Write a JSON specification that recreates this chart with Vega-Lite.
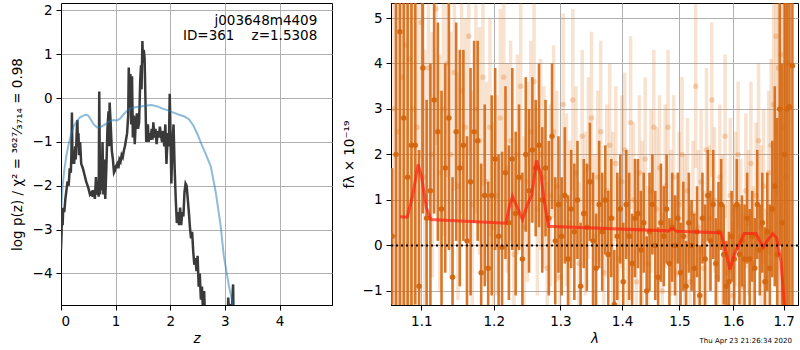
{
"$schema": "https://vega.github.io/schema/vega-lite/v6.json",
"padding": {"left": 9, "top": 2, "right": 0, "bottom": 0},
"config": {
  "font": "DejaVu Sans",
  "view": {"stroke": "black", "strokeWidth": 1},
  "axis": {"grid": true, "gridColor": "#b0b0b0", "gridWidth": 1, "tickColor": "black", "tickSize": 5, "tickWidth": 1, "domainColor": "black", "labelFont": "DejaVu Sans", "labelFontSize": 13.5, "labelColor": "black", "titleFont": "DejaVu Sans", "titleFontSize": 13.5, "titleFontWeight": "normal", "titleColor": "black", "labelPadding": 4}
},
"datasets": {
  "pz": [
    {"z":0.0,"v":-3.45},{"z":0.01,"v":-3.1},{"z":0.02,"v":-2.6},{"z":0.03,"v":-2.9},{"z":0.04,"v":-2.5},{"z":0.06,"v":-2.6},{"z":0.08,"v":-2.3},{"z":0.1,"v":-2.1},{"z":0.12,"v":-1.9},{"z":0.14,"v":-2.0},{"z":0.16,"v":-1.6},{"z":0.18,"v":-1.7},{"z":0.19,"v":-1.3},{"z":0.2,"v":-0.33},{"z":0.21,"v":-1.5},{"z":0.23,"v":-1.2},{"z":0.24,"v":-1.5},{"z":0.26,"v":-1.1},{"z":0.27,"v":-1.4},{"z":0.29,"v":-0.7},{"z":0.3,"v":-0.5},{"z":0.31,"v":-1.1},{"z":0.32,"v":-0.8},{"z":0.33,"v":-1.3},{"z":0.35,"v":-1.0},{"z":0.37,"v":-1.5},{"z":0.4,"v":-1.6},{"z":0.43,"v":-1.75},{"z":0.46,"v":-1.9},{"z":0.5,"v":-2.05},{"z":0.53,"v":-2.2},{"z":0.56,"v":-2.15},{"z":0.58,"v":-2.25},{"z":0.6,"v":-2.1},{"z":0.62,"v":-2.3},{"z":0.64,"v":-1.8},{"z":0.65,"v":-2.2},{"z":0.67,"v":-1.9},{"z":0.69,"v":-2.25},{"z":0.7,"v":0.15},{"z":0.715,"v":-2.2},{"z":0.73,"v":-1.6},{"z":0.745,"v":-2.1},{"z":0.76,"v":-1.0},{"z":0.775,"v":-2.2},{"z":0.79,"v":-1.4},{"z":0.81,"v":-2.3},{"z":0.83,"v":-1.6},{"z":0.85,"v":-0.7},{"z":0.87,"v":-0.3},{"z":0.88,"v":-1.1},{"z":0.89,"v":-0.1},{"z":0.91,"v":-0.6},{"z":0.93,"v":-1.2},{"z":0.95,"v":-1.4},{"z":0.97,"v":-1.7},{"z":0.99,"v":-1.65},{"z":1.01,"v":-1.55},{"z":1.03,"v":-1.5},{"z":1.05,"v":-1.6},{"z":1.07,"v":-1.4},{"z":1.09,"v":-1.45},{"z":1.11,"v":-1.3},{"z":1.13,"v":-1.35},{"z":1.15,"v":-1.2},{"z":1.17,"v":-1.1},{"z":1.19,"v":-0.95},{"z":1.21,"v":-0.8},{"z":1.23,"v":-0.4},{"z":1.24,"v":0.7},{"z":1.255,"v":-0.2},{"z":1.27,"v":0.55},{"z":1.285,"v":-0.6},{"z":1.3,"v":0.5},{"z":1.315,"v":-0.9},{"z":1.33,"v":-0.4},{"z":1.35,"v":-1.05},{"z":1.37,"v":-0.5},{"z":1.39,"v":-0.35},{"z":1.41,"v":-0.7},{"z":1.43,"v":-0.55},{"z":1.45,"v":0.4},{"z":1.465,"v":0.75},{"z":1.475,"v":0.2},{"z":1.49,"v":1.3},{"z":1.5,"v":0.8},{"z":1.515,"v":1.1},{"z":1.53,"v":0.9},{"z":1.545,"v":0.0},{"z":1.56,"v":-1.0},{"z":1.575,"v":-0.85},{"z":1.59,"v":-0.6},{"z":1.605,"v":-1.0},{"z":1.62,"v":-0.8},{"z":1.64,"v":-0.95},{"z":1.66,"v":-0.7},{"z":1.675,"v":-0.95},{"z":1.69,"v":-0.55},{"z":1.71,"v":-0.9},{"z":1.73,"v":-0.7},{"z":1.75,"v":-1.05},{"z":1.77,"v":-0.75},{"z":1.79,"v":-0.9},{"z":1.81,"v":-0.65},{"z":1.83,"v":-0.85},{"z":1.85,"v":-1.0},{"z":1.87,"v":-0.75},{"z":1.89,"v":-1.1},{"z":1.91,"v":-0.6},{"z":1.93,"v":-1.5},{"z":1.955,"v":-0.8},{"z":1.975,"v":-1.1},{"z":1.99,"v":0.1},{"z":2.005,"v":-0.9},{"z":2.02,"v":-1.95},{"z":2.04,"v":-1.0},{"z":2.06,"v":-0.6},{"z":2.08,"v":-1.6},{"z":2.1,"v":-2.3},{"z":2.12,"v":-2.85},{"z":2.14,"v":-2.6},{"z":2.16,"v":-2.9},{"z":2.18,"v":-2.5},{"z":2.2,"v":-2.9},{"z":2.22,"v":-2.6},{"z":2.24,"v":-2.7},{"z":2.26,"v":-2.15},{"z":2.28,"v":-1.95},{"z":2.3,"v":-2.0},{"z":2.32,"v":-2.3},{"z":2.34,"v":-2.6},{"z":2.36,"v":-2.95},{"z":2.38,"v":-3.2},{"z":2.4,"v":-3.05},{"z":2.42,"v":-3.5},{"z":2.44,"v":-3.8},{"z":2.46,"v":-3.65},{"z":2.48,"v":-3.95},{"z":2.5,"v":-3.6},{"z":2.52,"v":-4.3},{"z":2.54,"v":-4.0},{"z":2.56,"v":-4.6},{"z":2.58,"v":-4.3},{"z":2.6,"v":-4.9},{"z":2.62,"v":-4.4},{"z":2.64,"v":-5.2},{"z":2.66,"v":-6},{"z":2.9,"v":-6},{"z":3.04,"v":-6},{"z":3.06,"v":-4.55},{"z":3.08,"v":-4.9},{"z":3.1,"v":-4.7},{"z":3.12,"v":-5.0},{"z":3.15,"v":-4.25},{"z":3.17,"v":-6},{"z":5.0,"v":-6}
  ],
  "pzfit": [
    {"z":0.0,"v":-2.6},{"z":0.03,"v":-2.0},{"z":0.06,"v":-1.65},{"z":0.1,"v":-1.3},{"z":0.14,"v":-1.05},{"z":0.18,"v":-0.85},{"z":0.23,"v":-0.65},{"z":0.29,"v":-0.52},{"z":0.35,"v":-0.44},{"z":0.41,"v":-0.4},{"z":0.46,"v":-0.38},{"z":0.5,"v":-0.4},{"z":0.55,"v":-0.5},{"z":0.6,"v":-0.6},{"z":0.66,"v":-0.67},{"z":0.72,"v":-0.66},{"z":0.78,"v":-0.62},{"z":0.84,"v":-0.57},{"z":0.9,"v":-0.52},{"z":0.96,"v":-0.5},{"z":1.02,"v":-0.51},{"z":1.08,"v":-0.47},{"z":1.14,"v":-0.38},{"z":1.2,"v":-0.3},{"z":1.28,"v":-0.23},{"z":1.36,"v":-0.21},{"z":1.46,"v":-0.19},{"z":1.56,"v":-0.17},{"z":1.66,"v":-0.16},{"z":1.76,"v":-0.19},{"z":1.86,"v":-0.24},{"z":1.96,"v":-0.28},{"z":2.06,"v":-0.33},{"z":2.16,"v":-0.38},{"z":2.26,"v":-0.42},{"z":2.34,"v":-0.48},{"z":2.42,"v":-0.62},{"z":2.5,"v":-0.83},{"z":2.58,"v":-1.08},{"z":2.64,"v":-1.25},{"z":2.74,"v":-1.55},{"z":2.83,"v":-2.13},{"z":2.92,"v":-2.89},{"z":2.98,"v":-3.6},{"z":3.07,"v":-4.26},{"z":3.16,"v":-4.8},{"z":3.22,"v":-5.2}
  ],
  "dark": [
    {"l":1.062,"f":0.2,"e":1.5},{"l":1.067,"f":2.0,"e":8},{"l":1.072,"f":4.7,"e":8},{"l":1.077,"f":2.8,"e":8},{"l":1.082,"f":1.5,"e":8},{"l":1.087,"f":2.2,"e":8},{"l":1.092,"f":2.2,"e":3.5},{"l":1.097,"f":-0.9,"e":3.0},{"l":1.102,"f":3.9,"e":3.2},{"l":1.107,"f":0.6,"e":2.6},{"l":1.112,"f":1.2,"e":2.8},{"l":1.117,"f":3.2,"e":2.5},{"l":1.122,"f":2.5,"e":2.4},{"l":1.127,"f":0.8,"e":2.6},{"l":1.132,"f":1.7,"e":2.3},{"l":1.137,"f":2.8,"e":2.9},{"l":1.142,"f":-0.7,"e":2.2},{"l":1.147,"f":2.5,"e":2.4},{"l":1.152,"f":1.7,"e":2.6},{"l":1.157,"f":2.2,"e":2.1},{"l":1.162,"f":0.1,"e":2.3},{"l":1.167,"f":1.4,"e":2.5},{"l":1.172,"f":2.5,"e":2.0},{"l":1.177,"f":2.3,"e":2.2},{"l":1.182,"f":-0.6,"e":2.4},{"l":1.187,"f":1.1,"e":2.0},{"l":1.192,"f":-0.5,"e":1.9},{"l":1.197,"f":1.1,"e":2.2},{"l":1.202,"f":1.9,"e":2.0},{"l":1.207,"f":0.2,"e":1.8},{"l":1.212,"f":-0.04,"e":2.1},{"l":1.217,"f":1.6,"e":1.9},{"l":1.222,"f":0.5,"e":1.7},{"l":1.227,"f":1.9,"e":2.0},{"l":1.232,"f":0.7,"e":1.8},{"l":1.237,"f":1.5,"e":1.6},{"l":1.242,"f":-0.3,"e":1.9},{"l":1.247,"f":2.0,"e":1.7},{"l":1.252,"f":1.2,"e":1.8},{"l":1.257,"f":2.1,"e":1.6},{"l":1.262,"f":1.7,"e":1.5},{"l":1.267,"f":2.2,"e":1.8},{"l":1.272,"f":1.0,"e":1.6},{"l":1.277,"f":1.7,"e":1.5},{"l":1.282,"f":0.6,"e":1.7},{"l":1.287,"f":2.4,"e":1.6},{"l":1.292,"f":0.1,"e":1.4},{"l":1.297,"f":0.9,"e":1.5},{"l":1.302,"f":0.2,"e":1.3},{"l":1.307,"f":1.1,"e":1.5},{"l":1.312,"f":-0.3,"e":1.4},{"l":1.317,"f":0.8,"e":1.3},{"l":1.322,"f":0.3,"e":1.5},{"l":1.327,"f":1.0,"e":1.3},{"l":1.332,"f":-0.9,"e":1.4},{"l":1.337,"f":0.7,"e":1.2},{"l":1.342,"f":0.4,"e":1.4},{"l":1.347,"f":1.4,"e":1.3},{"l":1.352,"f":0.1,"e":1.5},{"l":1.357,"f":-0.5,"e":1.2},{"l":1.362,"f":0.9,"e":1.4},{"l":1.367,"f":0.3,"e":1.3},{"l":1.372,"f":1.0,"e":1.2},{"l":1.377,"f":-0.2,"e":1.4},{"l":1.382,"f":0.6,"e":1.3},{"l":1.387,"f":-1.3,"e":1.2},{"l":1.392,"f":0.2,"e":1.4},{"l":1.397,"f":0.8,"e":1.2},{"l":1.402,"f":-0.8,"e":1.3},{"l":1.407,"f":0.9,"e":1.2},{"l":1.412,"f":0.2,"e":1.4},{"l":1.417,"f":-0.4,"e":1.1},{"l":1.422,"f":0.6,"e":1.3},{"l":1.427,"f":0.7,"e":1.2},{"l":1.432,"f":-0.1,"e":1.3},{"l":1.437,"f":0.5,"e":1.1},{"l":1.442,"f":-1.0,"e":1.2},{"l":1.447,"f":0.3,"e":1.3},{"l":1.452,"f":0.9,"e":1.1},{"l":1.457,"f":0.0,"e":1.2},{"l":1.462,"f":-0.7,"e":1.1},{"l":1.467,"f":0.5,"e":1.3},{"l":1.472,"f":0.2,"e":1.1},{"l":1.477,"f":0.8,"e":1.2},{"l":1.482,"f":-0.4,"e":1.0},{"l":1.487,"f":0.4,"e":1.2},{"l":1.492,"f":0.0,"e":1.1},{"l":1.497,"f":0.6,"e":1.0},{"l":1.502,"f":-0.6,"e":1.1},{"l":1.507,"f":0.2,"e":1.2},{"l":1.512,"f":-0.9,"e":1.0},{"l":1.517,"f":0.5,"e":1.1},{"l":1.522,"f":0.0,"e":1.0},{"l":1.527,"f":-0.5,"e":1.2},{"l":1.532,"f":0.3,"e":1.0},{"l":1.537,"f":-1.1,"e":1.1},{"l":1.542,"f":0.6,"e":1.0},{"l":1.547,"f":-0.3,"e":1.2},{"l":1.552,"f":1.1,"e":1.0},{"l":1.557,"f":0.1,"e":1.1},{"l":1.562,"f":0.9,"e":1.2},{"l":1.567,"f":-0.4,"e":1.0},{"l":1.572,"f":0.3,"e":1.1},{"l":1.577,"f":0.9,"e":1.0},{"l":1.582,"f":-0.2,"e":1.1},{"l":1.587,"f":-0.9,"e":1.0},{"l":1.592,"f":-0.8,"e":1.1},{"l":1.597,"f":0.2,"e":1.0},{"l":1.602,"f":-0.3,"e":1.2},{"l":1.607,"f":0.9,"e":1.0},{"l":1.612,"f":-0.2,"e":1.1},{"l":1.617,"f":0.1,"e":1.0},{"l":1.622,"f":-0.3,"e":1.2},{"l":1.627,"f":0.6,"e":1.0},{"l":1.632,"f":-0.3,"e":1.1},{"l":1.637,"f":0.2,"e":1.0},{"l":1.642,"f":-0.5,"e":1.1},{"l":1.647,"f":0.9,"e":1.2},{"l":1.652,"f":-0.1,"e":1.0},{"l":1.657,"f":0.5,"e":1.1},{"l":1.662,"f":-0.8,"e":1.2},{"l":1.667,"f":0.3,"e":1.3},{"l":1.672,"f":-0.5,"e":1.4},{"l":1.677,"f":0.8,"e":1.5},{"l":1.682,"f":1.3,"e":2.2},{"l":1.687,"f":-0.2,"e":3.0},{"l":1.692,"f":3.0,"e":3.0},{"l":1.697,"f":0.5,"e":3.5},{"l":1.702,"f":2.0,"e":8},{"l":1.707,"f":3.0,"e":8},{"l":1.712,"f":3.05,"e":8},{"l":1.718,"f":3.95,"e":8}
  ],
  "light": [
    {"l":1.0645,"f":3.0,"e":8},{"l":1.0695,"f":2.5,"e":8},{"l":1.0745,"f":3.7,"e":8},{"l":1.0795,"f":4.4,"e":8},{"l":1.0845,"f":4.1,"e":8},{"l":1.0895,"f":3.0,"e":8},{"l":1.0945,"f":2.6,"e":3.5},{"l":1.0995,"f":4.9,"e":3.0},{"l":1.1045,"f":1.5,"e":2.8},{"l":1.1095,"f":3.9,"e":3.0},{"l":1.1145,"f":2.0,"e":2.7},{"l":1.1195,"f":5.2,"e":3.0},{"l":1.1245,"f":1.6,"e":2.6},{"l":1.1295,"f":3.0,"e":2.8},{"l":1.1345,"f":4.0,"e":2.5},{"l":1.1395,"f":2.0,"e":2.7},{"l":1.1445,"f":3.8,"e":2.6},{"l":1.1495,"f":1.3,"e":2.5},{"l":1.1545,"f":3.4,"e":2.7},{"l":1.1595,"f":2.6,"e":2.4},{"l":1.1645,"f":4.6,"e":2.6},{"l":1.1695,"f":0.9,"e":2.5},{"l":1.1745,"f":3.0,"e":2.3},{"l":1.1795,"f":2.3,"e":2.5},{"l":1.1845,"f":3.7,"e":2.4},{"l":1.1895,"f":1.4,"e":2.2},{"l":1.1945,"f":2.6,"e":2.4},{"l":1.1995,"f":0.4,"e":2.3},{"l":1.2045,"f":1.1,"e":2.2},{"l":1.2095,"f":2.8,"e":2.4},{"l":1.2145,"f":3.7,"e":2.1},{"l":1.2195,"f":1.7,"e":2.3},{"l":1.2245,"f":2.3,"e":2.2},{"l":1.2295,"f":-0.2,"e":2.0},{"l":1.2345,"f":2.0,"e":2.2},{"l":1.2395,"f":3.5,"e":2.1},{"l":1.2445,"f":0.4,"e":2.0},{"l":1.2495,"f":1.4,"e":2.2},{"l":1.2545,"f":2.5,"e":2.0},{"l":1.2595,"f":3.6,"e":2.1},{"l":1.2645,"f":0.8,"e":1.9},{"l":1.2695,"f":2.0,"e":2.1},{"l":1.2745,"f":1.5,"e":2.0},{"l":1.2795,"f":-0.5,"e":1.9},{"l":1.2845,"f":1.1,"e":2.0},{"l":1.2895,"f":2.5,"e":1.9},{"l":1.2945,"f":1.3,"e":2.1},{"l":1.2995,"f":-0.7,"e":1.8},{"l":1.3045,"f":3.1,"e":2.0},{"l":1.3095,"f":1.0,"e":1.9},{"l":1.3145,"f":0.5,"e":1.8},{"l":1.3195,"f":3.2,"e":2.0},{"l":1.3245,"f":1.6,"e":1.9},{"l":1.3295,"f":-0.4,"e":1.8},{"l":1.3345,"f":2.4,"e":1.9},{"l":1.3395,"f":0.7,"e":1.8},{"l":1.3445,"f":1.7,"e":2.0},{"l":1.3495,"f":2.8,"e":1.9},{"l":1.3545,"f":0.2,"e":1.8},{"l":1.3595,"f":1.5,"e":1.9},{"l":1.3645,"f":2.5,"e":2.0},{"l":1.3695,"f":-0.6,"e":1.7},{"l":1.3745,"f":1.2,"e":1.9},{"l":1.3795,"f":2.2,"e":1.8},{"l":1.3845,"f":0.6,"e":1.9},{"l":1.3895,"f":1.8,"e":1.7},{"l":1.3945,"f":-0.3,"e":1.8},{"l":1.3995,"f":1.4,"e":1.9},{"l":1.4045,"f":2.1,"e":1.7},{"l":1.4095,"f":0.3,"e":1.8},{"l":1.4145,"f":2.7,"e":1.9},{"l":1.4195,"f":1.0,"e":1.7},{"l":1.4245,"f":-0.8,"e":1.8},{"l":1.4295,"f":1.6,"e":1.7},{"l":1.4345,"f":0.4,"e":1.9},{"l":1.4395,"f":1.9,"e":1.8},{"l":1.4445,"f":-0.4,"e":1.7},{"l":1.4495,"f":1.2,"e":1.8},{"l":1.4545,"f":2.6,"e":1.7},{"l":1.4595,"f":0.8,"e":1.8},{"l":1.4645,"f":1.7,"e":1.6},{"l":1.4695,"f":-1.0,"e":1.7},{"l":1.4745,"f":1.3,"e":1.8},{"l":1.4795,"f":2.6,"e":1.7},{"l":1.4845,"f":0.5,"e":1.6},{"l":1.4895,"f":1.5,"e":1.8},{"l":1.4945,"f":-0.6,"e":1.7},{"l":1.4995,"f":0.9,"e":1.6},{"l":1.5045,"f":2.0,"e":1.7},{"l":1.5095,"f":0.2,"e":1.8},{"l":1.5145,"f":1.2,"e":1.6},{"l":1.5195,"f":-0.8,"e":1.7},{"l":1.5245,"f":0.7,"e":1.6},{"l":1.5295,"f":3.5,"e":1.8},{"l":1.5345,"f":0.4,"e":1.7},{"l":1.5395,"f":1.4,"e":1.6},{"l":1.5445,"f":-0.5,"e":1.7},{"l":1.5495,"f":2.1,"e":1.8},{"l":1.5545,"f":0.6,"e":1.6},{"l":1.5595,"f":3.2,"e":1.7},{"l":1.5645,"f":1.0,"e":1.6},{"l":1.5695,"f":-0.7,"e":1.7},{"l":1.5745,"f":1.5,"e":1.6},{"l":1.5795,"f":0.3,"e":1.7},{"l":1.5845,"f":2.4,"e":1.8},{"l":1.5895,"f":-0.6,"e":1.6},{"l":1.5945,"f":1.1,"e":1.7},{"l":1.5995,"f":-1.1,"e":1.6},{"l":1.6045,"f":0.8,"e":1.7},{"l":1.6095,"f":2.0,"e":1.6},{"l":1.6145,"f":0.2,"e":1.7},{"l":1.6195,"f":-0.9,"e":1.6},{"l":1.6245,"f":1.2,"e":1.7},{"l":1.6295,"f":0.5,"e":1.6},{"l":1.6345,"f":1.8,"e":1.8},{"l":1.6395,"f":-0.4,"e":1.7},{"l":1.6445,"f":1.1,"e":1.6},{"l":1.6495,"f":2.3,"e":1.7},{"l":1.6545,"f":0.4,"e":1.8},{"l":1.6595,"f":1.3,"e":1.7},{"l":1.6645,"f":-0.8,"e":1.6},{"l":1.6695,"f":1.6,"e":1.8},{"l":1.6745,"f":2.2,"e":1.9},{"l":1.6795,"f":3.1,"e":2.4},{"l":1.6845,"f":4.6,"e":3.5},{"l":1.6895,"f":3.9,"e":6},{"l":1.6945,"f":4.2,"e":8},{"l":1.6995,"f":2.6,"e":8},{"l":1.7045,"f":1.5,"e":8},{"l":1.7095,"f":4.0,"e":8}
  ],
  "model": [
    {"l":1.0722,"f":0.63},{"l":1.0816,"f":0.62},{"l":1.0885,"f":1.1},{"l":1.0957,"f":1.78},{"l":1.1005,"f":1.49},{"l":1.1066,"f":0.83},{"l":1.1125,"f":0.57},{"l":1.2176,"f":0.49},{"l":1.2224,"f":0.83},{"l":1.2272,"f":1.08},{"l":1.2346,"f":0.83},{"l":1.2421,"f":0.57},{"l":1.2496,"f":0.9},{"l":1.256,"f":1.1},{"l":1.2632,"f":1.87},{"l":1.2699,"f":1.56},{"l":1.275,"f":0.97},{"l":1.2816,"f":0.42},{"l":1.48,"f":0.32},{"l":1.4874,"f":0.37},{"l":1.495,"f":0.31},{"l":1.5764,"f":0.28},{"l":1.586,"f":-0.13},{"l":1.5936,"f":-0.53},{"l":1.6019,"f":-0.2},{"l":1.6116,"f":0.02},{"l":1.6213,"f":0.26},{"l":1.6443,"f":0.26},{"l":1.6522,"f":0.09},{"l":1.6588,"f":-0.04},{"l":1.6662,"f":0.09},{"l":1.6774,"f":0.26},{"l":1.6855,"f":0.17},{"l":1.6945,"f":-0.35},{"l":1.7013,"f":-1.3},{"l":1.704,"f":-1.8}
  ]
},
"spacing": 8,
"hconcat": [
  {
    "width": 271, "height": 302,
    "layer": [
      {
        "data": {"name": "pz"},
        "mark": {"type": "line", "color": "#3a3a3a", "strokeWidth": 2.5, "clip": true},
        "encoding": {
          "x": {"field": "z", "type": "quantitative", "title": "z", "scale": {"domain": [0, 4.96], "nice": false}, "axis": {"values": [0, 1, 2, 3, 4], "format": "d", "titleFontStyle": "italic", "titlePadding": 4}},
          "y": {"field": "v", "type": "quantitative", "title": "log p(z) / χ² = ³⁶²⁷⁄₃₇₁₄ = 0.98", "scale": {"domain": [-4.72, 2.17], "nice": false, "zero": false}, "axis": {"values": [-4, -3, -2, -1, 0, 1, 2], "format": "d", "titlePadding": 8}}
        }
      },
      {
        "data": {"name": "pzfit"},
        "mark": {"type": "line", "color": "#1f77b4", "opacity": 0.5, "strokeWidth": 2, "clip": true},
        "encoding": {
          "x": {"field": "z", "type": "quantitative", "title": "z"},
          "y": {"field": "v", "type": "quantitative", "title": "log p(z) / χ² = ³⁶²⁷⁄₃₇₁₄ = 0.98"}
        }
      },
      {
        "data": {"values": [{}]},
        "mark": {"type": "text", "align": "right", "baseline": "middle", "fontSize": 13.5, "color": "black"},
        "encoding": {"x": {"datum": 4.69}, "y": {"datum": 1.76}, "text": {"value": "j003648m4409"}}
      },
      {
        "data": {"values": [{}]},
        "mark": {"type": "text", "align": "right", "baseline": "middle", "fontSize": 13.5, "color": "black"},
        "encoding": {"x": {"datum": 4.69}, "y": {"datum": 1.42}, "text": {"value": "ID=361\u00a0\u00a0\u00a0\u00a0z=1.5308"}}
      }
    ]
  },
  {
    "width": 407, "height": 302,
    "layer": [
      {
        "data": {"name": "light"},
        "mark": {"type": "errorbar", "ticks": false, "clip": true, "thickness": 3.5, "rule": {"color": "#e07b28", "opacity": 0.22, "strokeWidth": 3.5}},
        "encoding": {
          "x": {"field": "l", "type": "quantitative", "title": "λ", "scale": {"type": "log", "domain": [1.0606, 1.7296], "nice": false}, "axis": {"values": [1.1, 1.2, 1.3, 1.4, 1.5, 1.6, 1.7], "format": ".1f", "titleFontStyle": "italic", "titlePadding": 4}},
          "y": {"field": "f", "type": "quantitative", "title": "fλ × 10⁻¹⁹", "scale": {"domain": [-1.31, 5.33], "nice": false, "zero": false}, "axis": {"values": [-1, 0, 1, 2, 3, 4, 5], "format": "d", "titlePadding": 6}},
          "yError": {"field": "e"}
        }
      },
      {
        "data": {"name": "light"},
        "mark": {"type": "circle", "color": "#e07b28", "opacity": 0.3, "size": 30, "clip": true},
        "encoding": {"x": {"field": "l", "type": "quantitative", "title": "λ"}, "y": {"field": "f", "type": "quantitative", "title": "fλ × 10⁻¹⁹"}}
      },
      {
        "data": {"name": "dark"},
        "mark": {"type": "errorbar", "ticks": false, "clip": true, "thickness": 2.6, "rule": {"color": "#d4650e", "opacity": 0.88, "strokeWidth": 2.6}},
        "encoding": {"x": {"field": "l", "type": "quantitative", "title": "λ"}, "y": {"field": "f", "type": "quantitative", "title": "fλ × 10⁻¹⁹"}, "yError": {"field": "e"}}
      },
      {
        "data": {"name": "dark"},
        "mark": {"type": "circle", "color": "#d4650e", "opacity": 0.95, "size": 30, "clip": true},
        "encoding": {"x": {"field": "l", "type": "quantitative", "title": "λ"}, "y": {"field": "f", "type": "quantitative", "title": "fλ × 10⁻¹⁹"}}
      },
      {
        "data": {"name": "model"},
        "mark": {"type": "line", "color": "#ff2010", "opacity": 0.7, "strokeWidth": 3, "clip": true},
        "encoding": {"x": {"field": "l", "type": "quantitative", "title": "λ"}, "y": {"field": "f", "type": "quantitative", "title": "fλ × 10⁻¹⁹"}}
      },
      {
        "data": {"values": [{}]},
        "mark": {"type": "rule", "color": "black", "strokeWidth": 2, "strokeDash": [2, 3]},
        "encoding": {"y": {"datum": 0}}
      },
      {
        "data": {"values": [{}]},
        "mark": {"type": "text", "align": "right", "baseline": "middle", "fontSize": 7, "color": "black"},
        "encoding": {"x": {"datum": 1.717}, "y": {"datum": -2.1}, "text": {"value": "Thu Apr 23 21:26:34 2020"}}
      }
    ]
  }
]
}
